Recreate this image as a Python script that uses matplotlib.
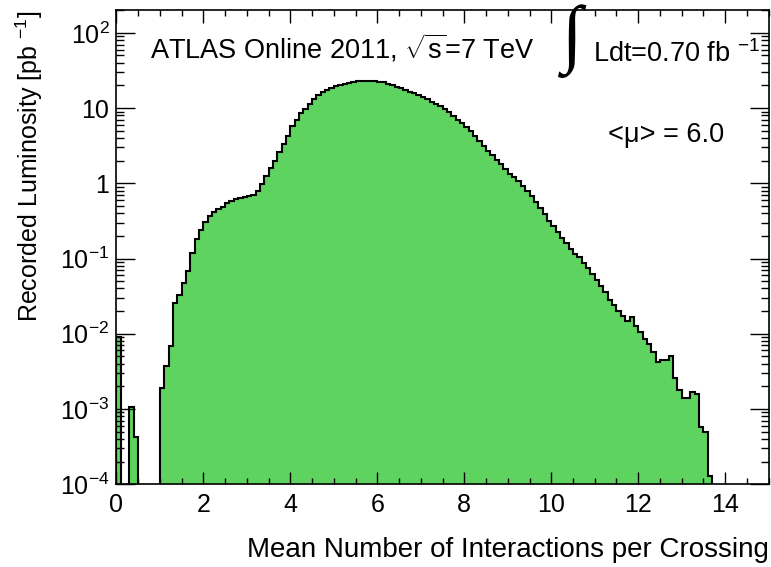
import matplotlib.pyplot as plt
import numpy as np
from matplotlib.ticker import MultipleLocator, LogLocator, NullFormatter

plt.rcParams['font.family'] = ['Liberation Sans', 'DejaVu Sans']
plt.rcParams['mathtext.fontset'] = 'custom'
plt.rcParams['mathtext.rm'] = 'Liberation Sans'
plt.rcParams['mathtext.it'] = 'Liberation Sans:italic'

# recorded luminosity per 0.1 bin of <mu> [pb^-1]
bin_width = 0.1
lumi = [
    9.0e-3, 0, 0, 1.05e-3, 4.3e-4, 0, 0, 0, 0, 0,
    1.9e-3, 3.7e-3, 6.8e-3, 0.026, 0.033, 0.048, 0.068, 0.12, 0.18, 0.24,
    0.31, 0.37, 0.41, 0.45, 0.49, 0.54, 0.58, 0.61, 0.63, 0.65,
    0.67, 0.70, 0.78, 0.98, 1.25, 1.6, 2.0, 2.6, 3.3, 4.3,
    5.8, 7.0, 8.5, 9.8, 11.3, 13.3, 15.0, 16.3, 17.5, 18.7,
    19.6, 20.4, 21.1, 21.7, 22.3, 22.7, 23.0, 23.2, 23.2, 23.0,
    22.5, 21.9, 21.0, 20.1, 19.2, 18.3, 17.4, 16.6, 15.8, 14.9,
    14.0, 13.1, 12.2, 11.3, 10.5, 9.7, 8.8, 7.9, 7.0, 6.3,
    5.6, 4.9, 4.2, 3.6, 3.1, 2.7, 2.35, 2.05, 1.78, 1.55,
    1.35, 1.2, 1.06, 0.93, 0.79, 0.67, 0.56, 0.47, 0.39, 0.32,
    0.27, 0.225, 0.19, 0.16, 0.135, 0.115, 0.105, 0.088, 0.074, 0.062,
    0.052, 0.043, 0.036, 0.028, 0.024, 0.020, 0.017, 0.015, 0.0165, 0.0125,
    0.0104, 0.0085, 0.0072, 0.0057, 0.0042, 0.0045, 0.0045, 0.0050, 0.0026, 0.0018,
    0.0014, 0.0014, 0.0017, 0.0016, 5.7e-4, 5.0e-4, 1.3e-4,
]

x_ticks = [0, 2, 4, 6, 8, 10, 12, 14]
y_ticks = [1e-4, 1e-3, 1e-2, 1e-1, 1, 10, 1e2]
y_tick_labels = [r'$10^{-4}$', r'$10^{-3}$', r'$10^{-2}$', r'$10^{-1}$', '1', '10', r'$10^{2}$']

COLOR_FILL = '#5fd35f'

edges = np.arange(len(lumi) + 1) * bin_width
floor = 1e-6
heights = np.where(np.array(lumi) > 0, lumi, floor)

fig = plt.figure(figsize=(7.71, 5.67), dpi=100)
ax = fig.add_axes([0.151, 0.146, 0.846, 0.836])

ax.stairs(heights, edges, baseline=floor, fill=True, color=COLOR_FILL)
ax.stairs(heights, edges, baseline=floor, color='black', lw=1.5)

ax.set_yscale('log')
ax.set_xlim(0, 15)
ax.set_ylim(1e-4, 200)

ax.set_xticks(x_ticks, [str(t) for t in x_ticks], fontsize=18)
ax.set_yticks(y_ticks, y_tick_labels, fontsize=18)
ax.xaxis.set_minor_locator(MultipleLocator(0.5))
ax.yaxis.set_minor_locator(LogLocator(subs=np.arange(2, 10), numticks=20))
ax.yaxis.set_minor_formatter(NullFormatter())
ax.tick_params(which='both', direction='in', top=True, right=True, width=1)
ax.tick_params(axis='x', which='major', length=9, pad=6)
ax.tick_params(axis='x', which='minor', length=4.5)
ax.tick_params(axis='y', which='major', length=14, pad=5)
ax.tick_params(axis='y', which='minor', length=6)
for s in ax.spines.values():
    s.set_linewidth(1.2)

ax.set_xlabel('Mean Number of Interactions per Crossing', loc='right', fontsize=20)
ax.xaxis.set_label_coords(1.0, -0.112)
ax.set_ylabel('Recorded Luminosity [pb $^{-1}$]', loc='top', fontsize=18)
ax.yaxis.set_label_coords(-0.11, 1.0)

fig.text(150 / 771, 1 - 59 / 567, r'ATLAS Online 2011, $\sqrt{\mathrm{s}}$=7 TeV', fontsize=19.5, va='baseline')
fig.text(562 / 771, 1 - 41 / 567, '\u222b', fontsize=54, va='center', family=['Liberation Serif', 'DejaVu Sans'])
fig.text(593 / 771, 1 - 62 / 567, r'Ldt=0.70 fb $^{-1}$', fontsize=19.5, va='baseline')
fig.text(608 / 771, 1 - 142 / 567, '<\u03bc> = 6.0', fontsize=19.5, va='baseline')

fig.savefig('out.png', dpi=100)
